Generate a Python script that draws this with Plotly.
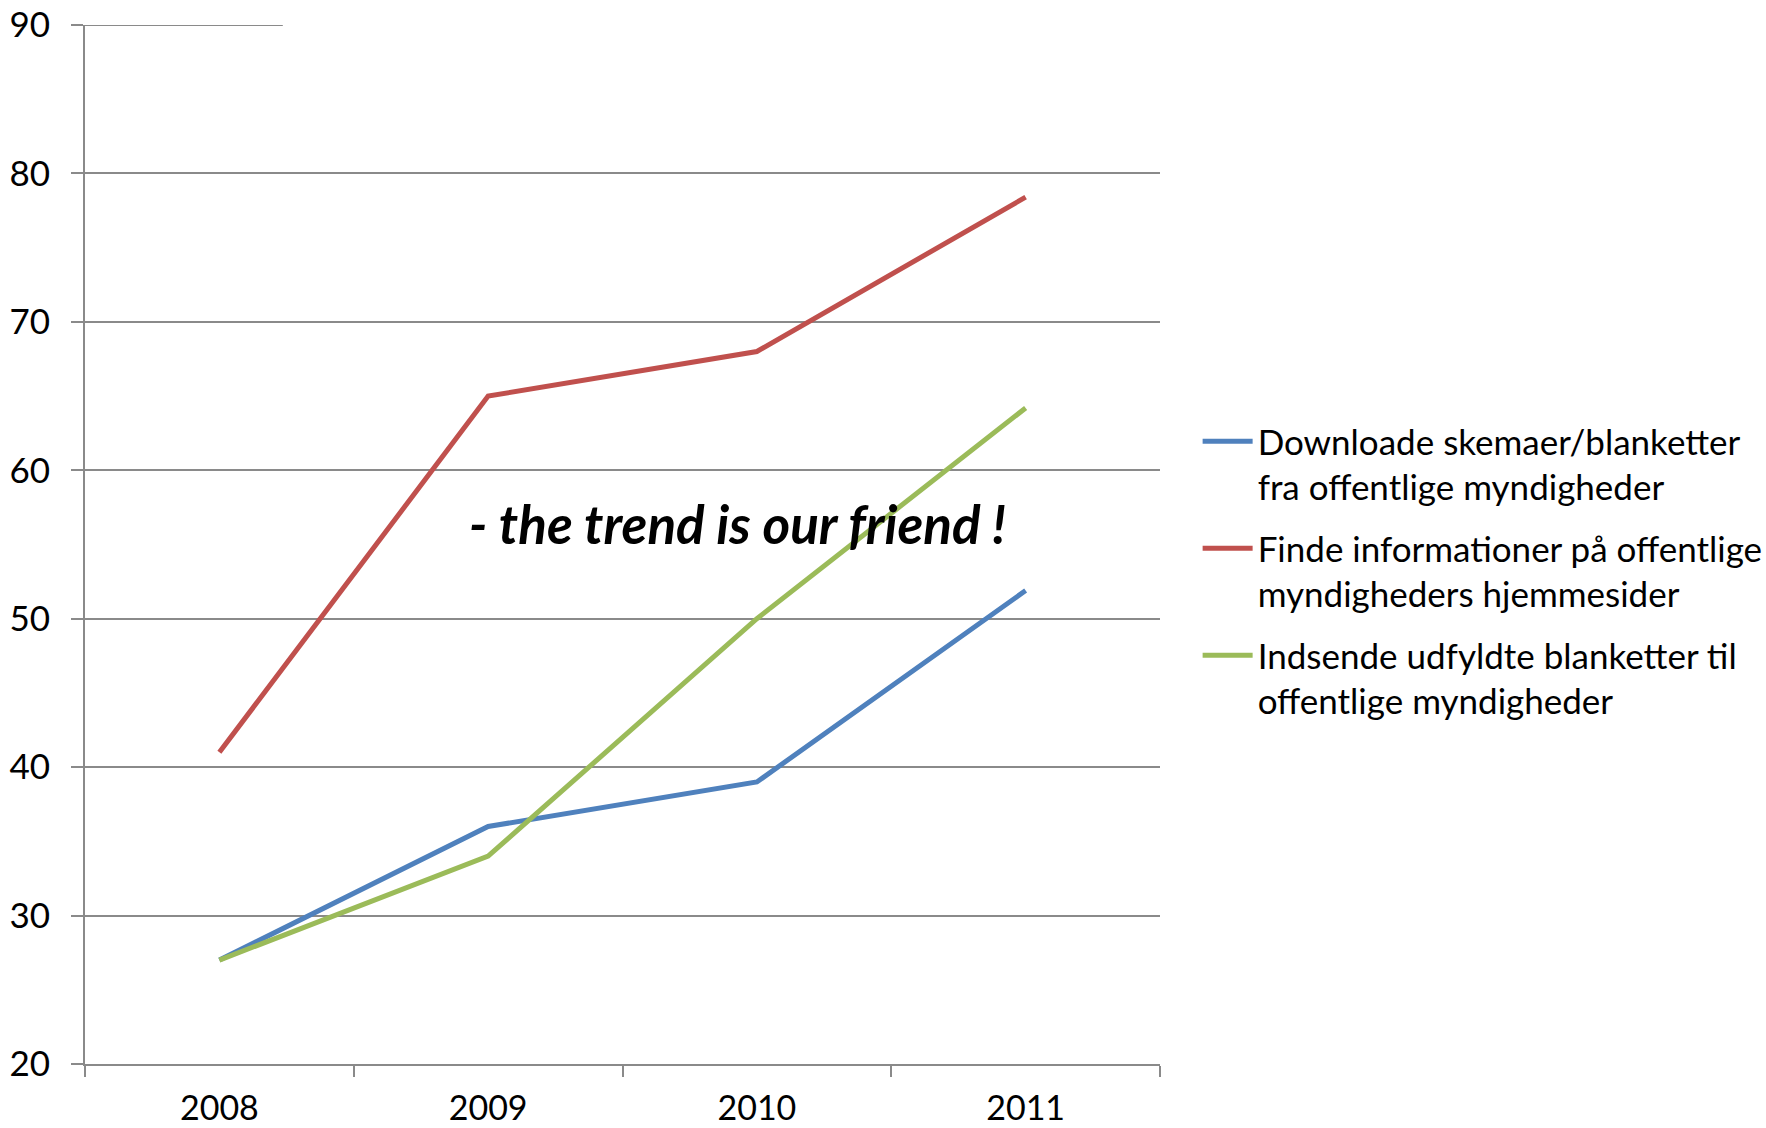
import plotly.graph_objects as go

# Survey years and share of respondents (%) per online activity
years = ["2008", "2009", "2010", "2011"]

download_forms = [27, 36, 39, 51.9]
find_info = [41, 65, 68, 78.4]
submit_forms = [27, 34, 50, 64.2]

series_names = [
    "Downloade skemaer/blanketter<br>fra offentlige myndigheder",
    "Finde informationer på offentlige<br>myndigheders hjemmesider",
    "Indsende udfyldte blanketter til<br>offentlige myndigheder",
]
series_colors = ["#4F81BD", "#C0504D", "#9BBB59"]

y_ticks = [20, 30, 40, 50, 60, 70, 80, 90]

W, H = 1766, 1128
ML, MR, MT, MB = 85, 606, 25, 64

fig = go.Figure()
for i, (vals, name, color) in enumerate(zip([download_forms, find_info, submit_forms], series_names, series_colors)):
    fig.add_trace(go.Scatter(
        x=years, y=vals, name=name, mode="lines", legendgroup=f"g{i}",
        line=dict(color=color, width=5),
    ))

axis_gray = "#8A8A8A"

fig.update_layout(
    width=W, height=H,
    margin=dict(l=ML, r=MR, t=MT, b=MB, pad=0, autoexpand=False),
    paper_bgcolor="white", plot_bgcolor="white",
    font=dict(family="Lato", color="black"),
    showlegend=True,
    legend=dict(
        x=1.035, y=0.6275, xanchor="left", yanchor="top",
        font=dict(size=35, family="Lato", color="black"),
        valign="top", tracegroupgap=13, itemwidth=50,
        bgcolor="rgba(0,0,0,0)",
    ),
    xaxis=dict(
        type="category", range=[-0.5, 3.5], automargin=False,
        tickson="boundaries", ticks="outside", ticklen=11, tickwidth=1.5,
        tickcolor=axis_gray, showline=True, linecolor=axis_gray, linewidth=2,
        showgrid=False, tickfont=dict(size=34, family="Lato"),
        ticklabelstandoff=13,
    ),
    yaxis=dict(
        range=[20, 90], tickvals=y_ticks, ticks="outside", ticklen=12,
        tickwidth=1.5, tickcolor=axis_gray, showline=True, linecolor=axis_gray,
        linewidth=2, showgrid=True, gridcolor=axis_gray, gridwidth=2,
        zeroline=False, tickfont=dict(size=35, family="Lato"),
        ticklabelstandoff=14, automargin=False,
    ),
    annotations=[dict(
        text="<b><i>- the trend is our friend !</i></b>",
        x=0.355, y=56.4, xref="x domain", yref="y",
        xanchor="left", yanchor="middle", showarrow=False,
        font=dict(size=53, family="Lato", color="black"),
    )],
    shapes=[dict(
        # short top gridline at 90
        type="line", xref="x domain", yref="y",
        x0=0, x1=0.184, y0=90, y1=90,
        line=dict(color=axis_gray, width=2),
    )],
)

fig.write_html("out.html")
